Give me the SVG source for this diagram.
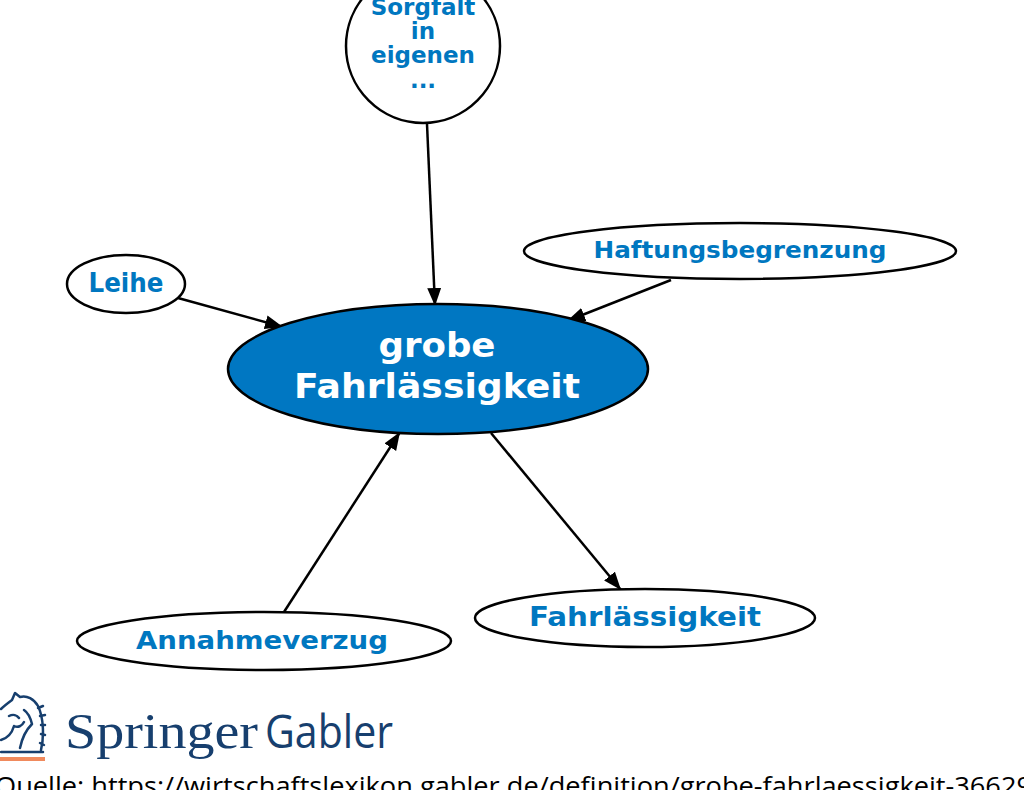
<svg xmlns="http://www.w3.org/2000/svg" width="1024" height="790" viewBox="0 0 1024 790">
<style>
.node ellipse, .node circle { fill: #ffffff; stroke: #000000; stroke-width: 2.5; }
.lbl { font-family: "DejaVu Sans", Verdana, sans-serif; font-weight: bold; fill: #0077c0; text-anchor: middle; }
.main ellipse { fill: #0077c2; stroke: #000000; stroke-width: 2.5; }
.main text { font-family: "DejaVu Sans", Verdana, sans-serif; font-weight: bold; fill: #ffffff; text-anchor: middle; font-size: 34px; }
.edge { stroke: #000000; stroke-width: 2.5; fill: none; marker-end: url(#arr); }
</style>
<defs>
<marker id="arr" markerUnits="userSpaceOnUse" markerWidth="20" markerHeight="16" refX="18" refY="7" orient="auto">
<path d="M0,0 L18,7 L0,14 z" fill="#000000"/>
</marker>
</defs>
<rect width="1024" height="790" fill="#ffffff"/>
<g id="edges">
<line class="edge" x1="427" y1="124" x2="435" y2="306"/>
<line class="edge" x1="178" y1="298" x2="283" y2="327"/>
<line class="edge" x1="671" y1="280" x2="567" y2="321"/>
<line class="edge" x1="491" y1="433" x2="621" y2="590"/>
<line class="edge" x1="284" y1="612" x2="400" y2="432"/>
</g>
<g id="node-sorgfalt" class="node">
<circle cx="423" cy="46" r="77"/>
<text class="lbl" font-size="23"><tspan x="423" y="15">Sorgfalt</tspan><tspan x="423" y="39">in</tspan><tspan x="423" y="63">eigenen</tspan><tspan x="423" y="88">...</tspan></text>
</g>
<g id="node-leihe" class="node">
<ellipse cx="126" cy="284" rx="59" ry="29"/>
<text class="lbl" font-size="26" x="126" y="292" textLength="75" lengthAdjust="spacingAndGlyphs">Leihe</text>
</g>
<g id="node-haftung" class="node">
<ellipse cx="740" cy="251" rx="216" ry="28"/>
<text class="lbl" font-size="23" x="740" y="258" textLength="293" lengthAdjust="spacingAndGlyphs">Haftungsbegrenzung</text>
</g>
<g id="node-main" class="main">
<ellipse cx="438" cy="369" rx="210" ry="65"/>
<text><tspan x="437" y="357" textLength="117" lengthAdjust="spacingAndGlyphs">grobe</tspan><tspan x="437" y="398" textLength="286" lengthAdjust="spacingAndGlyphs">Fahrlässigkeit</tspan></text>
</g>
<g id="node-fahrl" class="node">
<ellipse cx="645" cy="618" rx="170" ry="29"/>
<text class="lbl" font-size="27" x="645" y="626" textLength="232" lengthAdjust="spacingAndGlyphs">Fahrlässigkeit</text>
</g>
<g id="node-annahme" class="node">
<ellipse cx="264" cy="641" rx="187" ry="29"/>
<text class="lbl" font-size="25" x="262" y="649" textLength="252" lengthAdjust="spacingAndGlyphs">Annahmeverzug</text>
</g>
<g id="logo">
<g fill="none" stroke="#173f6e" stroke-width="2.5" stroke-linecap="round" stroke-linejoin="round">
<path d="M1,752 L43,752"/>
<path d="M41,750 C44,738 44,718 38,706 C34,699 27,695 20,697 L15,693 L12,700 C8,703 4,706 1,709"/>
<path d="M38,708 L43,706 M40,716 L45,715 M41,725 L45,725 M41,734 L45,735 M40,743 L44,745"/>
<path d="M1,740 C8,738 12,733 14,726 C18,728 22,726 24,722 M9,716 C13,714 17,715 19,718"/>
<path d="M20,748 C22,738 26,730 32,724 C30,716 27,712 24,710"/>
</g>
<rect x="0" y="757" width="45" height="4" fill="#f08a5d"/>
<text x="65" y="748" font-family="Liberation Serif, serif" font-size="50" fill="#173f6e" textLength="193" lengthAdjust="spacingAndGlyphs">Springer</text>
<text x="265" y="748" font-family="Open Sans, Liberation Sans, sans-serif" font-size="46" fill="#173f6e" textLength="128" lengthAdjust="spacingAndGlyphs">Gabler</text>
</g>
<text x="-5" y="795" font-family="Open Sans, Noto Sans, sans-serif" font-size="25" fill="#000000" textLength="1037" lengthAdjust="spacingAndGlyphs">Quelle: https://wirtschaftslexikon.gabler.de/definition/grobe-fahrlaessigkeit-36629</text>
</svg>
